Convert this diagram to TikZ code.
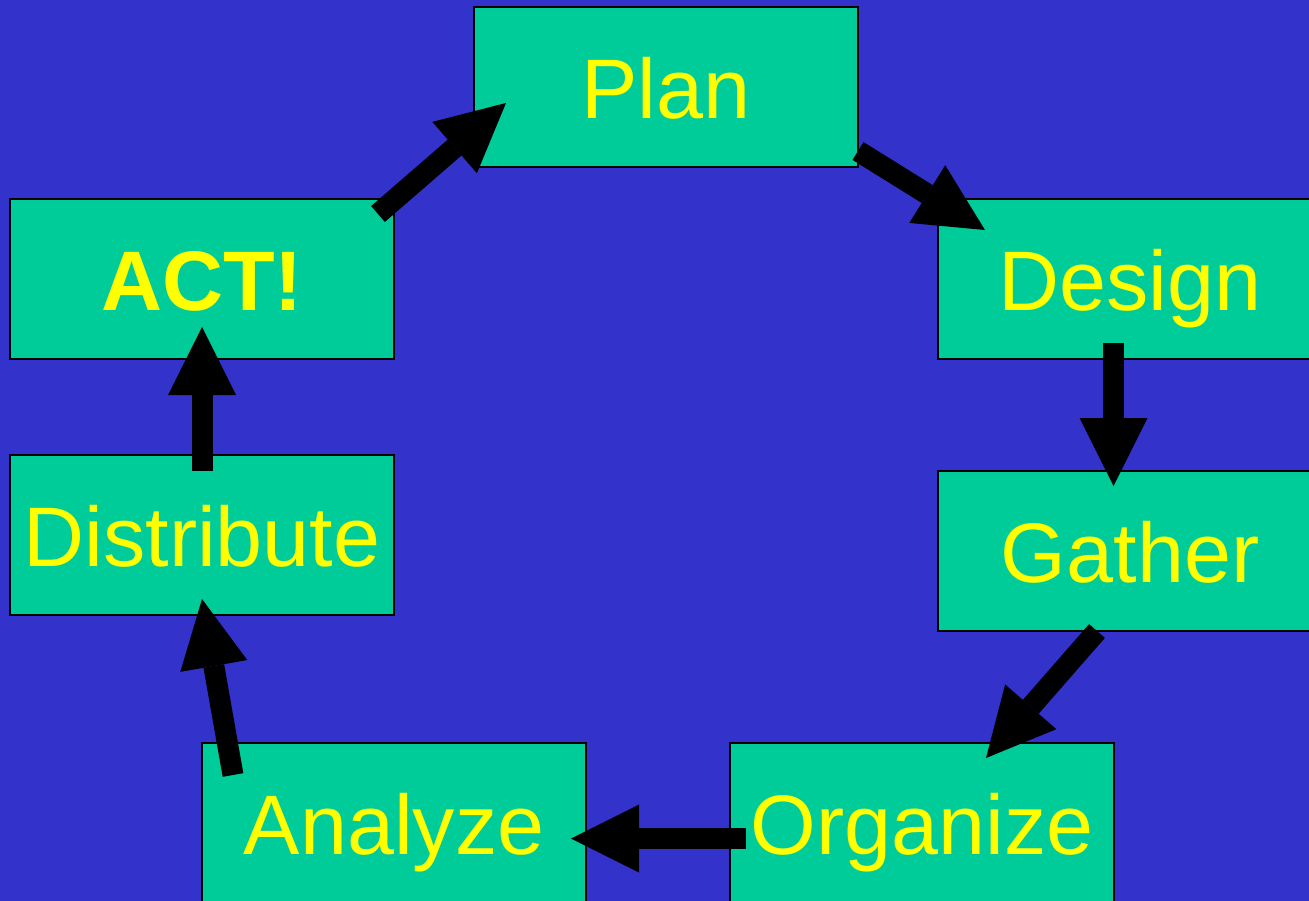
\documentclass[tikz,border=0pt]{standalone}
\usepackage{fontspec}
\setmainfont{Liberation Sans}
\usetikzlibrary{arrows.meta}
\definecolor{bgblue}{RGB}{51,51,204}
\definecolor{boxgreen}{RGB}{0,204,153}
\definecolor{txtyellow}{RGB}{255,255,0}
\tikzset{
  stagebox/.style={draw=black, line width=2pt, fill=boxgreen, text=txtyellow,
    minimum width=384pt, minimum height=160pt, inner sep=0pt,
    font=\fontsize{84.5}{90}\selectfont, text height=63pt, text depth=0pt},
  bigarrow/.style={draw=black, line width=21pt, line cap=butt,
    -{Triangle[length=68pt,width=68pt,line width=0pt,fill=black]}}
}
\begin{document}
\begin{tikzpicture}[x=1pt,y=-1pt]
\useasboundingbox (0,0) rectangle (1309,901);
\clip (0,0) rectangle (1309,901);
\fill[bgblue] (0,0) rectangle (1309,901);
\node[stagebox] (plan) at (666,87) {Plan};
\node[stagebox] (act) at (202,279) {\bfseries ACT!};
\node[stagebox] (design) at (1130,279) {Design};
\node[stagebox] (gather) at (1130,551) {Gather};
\node[stagebox] (distribute) at (202,535) {Distribute};
\node[stagebox] (analyze) at (394,823) {Analyze};
\node[stagebox] (organize) at (922,823) {Organize};
\coordinate (a1s) at (378,214);   \coordinate (a1e) at (506,103);
\coordinate (a2s) at (858,151);   \coordinate (a2e) at (985,230);
\coordinate (a3s) at (1113.5,343); \coordinate (a3e) at (1113.5,486);
\coordinate (a4s) at (1097,631);  \coordinate (a4e) at (986,758);
\coordinate (a5s) at (746,838.5); \coordinate (a5e) at (571,838.5);
\coordinate (a6s) at (233,775);   \coordinate (a6e) at (202,599);
\coordinate (a7s) at (202,471);   \coordinate (a7e) at (202,327);
\draw[bigarrow] (a1s) -- (a1e);
\draw[bigarrow] (a2s) -- (a2e);
\draw[bigarrow] (a3s) -- (a3e);
\draw[bigarrow] (a4s) -- (a4e);
\draw[bigarrow] (a5s) -- (a5e);
\draw[bigarrow] (a6s) -- (a6e);
\draw[bigarrow] (a7s) -- (a7e);
\end{tikzpicture}
\end{document}
